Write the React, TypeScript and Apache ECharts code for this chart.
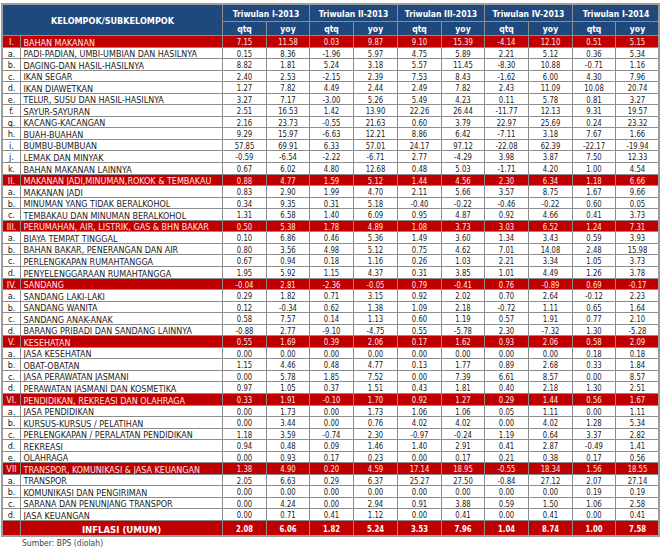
import React, { useEffect, useRef } from "react";
import * as echarts from "echarts";

// ---------- DATA ----------
const headerTitle = "KELOMPOK/SUBKELOMPOK";
const periods = ["Triwulan I-2013", "Triwulan II-2013", "Triwulan III-2013", "Triwulan IV-2013", "Triwulan I-2014"];
const measures = ["qtq", "yoy"];
const source = "Sumber: BPS (diolah)";

const rowCodes = [
  "I.", "a.", "b.", "c.", "d.", "e.", "f.", "g.", "h.", "i.", "j.", "k.",
  "II.", "a.", "b.", "c.",
  "III.", "a.", "b.", "c.", "d.",
  "IV.", "a.", "b.", "c.", "d.",
  "V.", "a.", "b.", "c.", "d.",
  "VI.", "a.", "b.", "c.", "d.", "e.",
  "VII", "a.", "b.", "c.", "d.",
  "",
];
const rowLabels = [
  "BAHAN MAKANAN",
  "PADI-PADIAN, UMBI-UMBIAN DAN HASILNYA",
  "DAGING-DAN HASIL-HASILNYA",
  "IKAN SEGAR",
  "IKAN DIAWETKAN",
  "TELUR, SUSU DAN HASIL-HASILNYA",
  "SAYUR-SAYURAN",
  "KACANG-KACANGAN",
  "BUAH-BUAHAN",
  "BUMBU-BUMBUAN",
  "LEMAK DAN MINYAK",
  "BAHAN MAKANAN LAINNYA",
  "MAKANAN JADI,MINUMAN,ROKOK & TEMBAKAU",
  "MAKANAN JADI",
  "MINUMAN YANG TIDAK BERALKOHOL",
  "TEMBAKAU DAN MINUMAN BERALKOHOL",
  "PERUMAHAN, AIR, LISTRIK, GAS & BHN BAKAR",
  "BIAYA TEMPAT TINGGAL",
  "BAHAN BAKAR, PENERANGAN DAN AIR",
  "PERLENGKAPAN RUMAHTANGGA",
  "PENYELENGGARAAN RUMAHTANGGA",
  "SANDANG",
  "SANDANG LAKI-LAKI",
  "SANDANG WANITA",
  "SANDANG ANAK-ANAK",
  "BARANG PRIBADI DAN SANDANG LAINNYA",
  "KESEHATAN",
  "JASA KESEHATAN",
  "OBAT-OBATAN",
  "JASA PERAWATAN JASMANI",
  "PERAWATAN JASMANI DAN KOSMETIKA",
  "PENDIDIKAN, REKREASI DAN OLAHRAGA",
  "JASA PENDIDIKAN",
  "KURSUS-KURSUS / PELATIHAN",
  "PERLENGKAPAN / PERALATAN PENDIDIKAN",
  "REKREASI",
  "OLAHRAGA",
  "TRANSPOR, KOMUNIKASI & JASA KEUANGAN",
  "TRANSPOR",
  "KOMUNIKASI DAN PENGIRIMAN",
  "SARANA DAN PENUNJANG TRANSPOR",
  "JASA KEUANGAN",
  "INFLASI (UMUM)",
];

const tw1_2013_qtq = [7.15, 0.15, 8.82, 2.40, 1.27, 3.27, 2.51, 2.16, 9.29, 57.85, -0.59, 0.67, 0.88, 0.83, 0.34, 1.31, 0.50, 0.10, 0.80, 0.67, 1.95, -0.04, 0.29, 0.12, 0.58, -0.88, 0.55, 0.00, 1.15, 0.00, 0.97, 0.33, 0.00, 0.00, 1.18, 0.94, 0.00, 1.38, 2.05, 0.00, 0.00, 0.00, 2.08];
const tw1_2013_yoy = [11.58, 8.36, 1.81, 2.53, 7.82, 7.17, 16.53, 23.73, 15.97, 69.91, -6.54, 6.02, 4.77, 2.90, 9.35, 6.58, 5.38, 6.86, 3.56, 0.94, 5.92, 2.81, 1.82, -0.34, 7.57, 2.77, 1.69, 0.00, 4.46, 5.78, 1.05, 1.91, 1.73, 3.44, 3.59, 0.48, 0.93, 4.90, 6.63, 0.00, 4.24, 0.71, 6.06];
const tw2_2013_qtq = [0.03, -1.96, 5.24, -2.15, 4.49, -3.00, 1.42, -0.55, -6.63, 6.33, -2.22, 4.80, 1.59, 1.99, 0.31, 1.40, 1.78, 0.46, 4.98, 0.18, 1.15, -2.36, 0.71, 0.62, 0.14, -9.10, 0.39, 0.00, 0.48, 1.85, 0.37, -0.10, 0.00, 0.00, -0.74, 0.09, 0.17, 0.20, 0.29, 0.00, 0.00, 0.41, 1.82];
const tw2_2013_yoy = [9.87, 5.97, 3.18, 2.39, 2.44, 5.26, 13.90, 21.63, 12.21, 57.01, -6.71, 12.68, 5.12, 4.70, 5.18, 6.09, 4.89, 5.36, 5.12, 1.16, 4.37, -0.05, 3.15, 1.38, 1.13, -4.75, 2.06, 0.00, 4.77, 7.52, 1.51, 1.70, 1.73, 0.76, 2.30, 1.46, 0.23, 4.59, 6.37, 0.00, 2.94, 1.12, 5.24];
const tw3_2013_qtq = [9.10, 4.75, 5.57, 7.53, 2.49, 5.49, 22.26, 0.60, 8.86, 24.17, 2.77, 0.48, 1.44, 2.11, -0.40, 0.95, 1.08, 1.49, 0.75, 0.26, 0.31, 0.79, 0.92, 1.09, 0.60, 0.55, 0.17, 0.00, 0.13, 0.00, 0.43, 0.92, 1.06, 4.02, -0.97, 1.40, 0.00, 17.14, 25.27, 0.00, 0.91, 0.00, 3.53];
const tw3_2013_yoy = [15.39, 5.89, 11.45, 8.43, 7.82, 4.23, 26.44, 3.79, 6.42, 97.12, -4.29, 5.03, 4.56, 5.66, -0.22, 4.87, 3.73, 3.60, 4.62, 1.03, 3.85, -0.41, 2.02, 2.18, 1.19, -5.78, 1.62, 0.00, 1.77, 7.39, 1.81, 1.27, 1.06, 4.02, -0.24, 2.91, 0.17, 18.95, 27.50, 0.00, 3.88, 0.41, 7.96];
const tw4_2013_qtq = [-4.14, 2.21, -8.30, -1.62, 2.43, 0.11, -11.77, 22.97, -7.11, -22.08, 3.98, -1.71, 2.30, 3.57, -0.46, 0.92, 3.03, 1.34, 7.01, 2.21, 1.01, 0.76, 0.70, -0.72, 0.57, 2.30, 0.93, 0.00, 0.89, 6.61, 0.40, 0.29, 0.05, 0.00, 1.19, 0.41, 0.21, -0.55, -0.84, 0.00, 0.59, 0.00, 1.04];
const tw4_2013_yoy = [12.10, 5.12, 10.88, 6.00, 11.09, 5.78, 12.13, 25.69, 3.18, 62.39, 3.87, 4.20, 6.34, 8.75, -0.22, 4.66, 6.52, 3.43, 14.08, 3.34, 4.49, -0.89, 2.64, 1.11, 1.91, -7.32, 2.06, 0.00, 2.68, 8.57, 2.18, 1.44, 1.11, 4.02, 0.64, 2.87, 0.38, 18.34, 27.12, 0.00, 1.50, 0.41, 8.74];
const tw1_2014_qtq = [0.51, 0.36, -0.71, 4.30, 10.08, 0.81, 9.31, 0.24, 7.67, -22.17, 7.50, 1.00, 1.18, 1.67, 0.60, 0.41, 1.24, 0.59, 2.48, 1.05, 1.26, 0.69, -0.12, 0.65, 0.77, 1.30, 0.58, 0.18, 0.33, 0.00, 1.30, 0.56, 0.00, 1.28, 3.37, -0.49, 0.17, 1.56, 2.07, 0.19, 1.06, 0.00, 1.00];
const tw1_2014_yoy = [5.15, 5.34, 1.16, 7.96, 20.74, 3.27, 19.57, 23.32, 1.66, -19.94, 12.33, 4.54, 6.66, 9.66, 0.05, 3.73, 7.31, 3.93, 15.98, 3.73, 3.78, -0.17, 2.23, 1.64, 2.10, -5.28, 2.09, 0.18, 1.84, 8.57, 2.51, 1.67, 1.11, 5.34, 2.82, 1.41, 0.56, 18.55, 27.14, 0.19, 2.58, 0.41, 7.58];

const valueColumns = [
  tw1_2013_qtq, tw1_2013_yoy,
  tw2_2013_qtq, tw2_2013_yoy,
  tw3_2013_qtq, tw3_2013_yoy,
  tw4_2013_qtq, tw4_2013_yoy,
  tw1_2014_qtq, tw1_2014_yoy,
];

// ---------- LAYOUT / STYLE ----------
const W = 663;
const H = 548;
const T_LEFT = 2;
const IDX_RIGHT = 20;
const LABEL_RIGHT = 222;
const T_RIGHT = 659;
const T_TOP = 4;
const HEAD1 = 21;
const HEAD2 = 35;
const BODY_END = 520;
const T_BOTTOM = 536;

const BLUE = "#1F497D";
const RED = "#C00000";
const GROUP_TEXT = "#FFE6E6";
const BODY_TEXT = "#1a1a1a";
const GRID_LINE = "#8c8c8c";
const FONT = "'DejaVu Sans Condensed', 'DejaVu Sans', sans-serif";

const snap = (v: number) => Math.round(v) + 0.5;
const dataColEdge = (i: number) => snap(LABEL_RIGHT + (i * (T_RIGHT - LABEL_RIGHT)) / 10);
const nBody = rowLabels.length - 1;
const rowEdge = (i: number) => (i >= nBody ? snap(BODY_END) : snap(HEAD2 + (i * (BODY_END - HEAD2)) / nBody));

type Cell = {
  text: string;
  fill: string;
  color: string;
  bold: boolean;
  align: "left" | "center";
  size: number;
  sx: number;
};

function buildCells() {
  const items: number[][] = [];
  const cells: Cell[] = [];
  const add = (x0: number, y0: number, x1: number, y1: number, c: Cell) => {
    items.push([x0, y0, x1, y1, cells.length]);
    cells.push(c);
  };
  // header
  add(snap(T_LEFT), snap(T_TOP), snap(LABEL_RIGHT), snap(HEAD2), {
    text: headerTitle, fill: BLUE, color: "#ffffff", bold: true, align: "center", size: 9.5, sx: 0.95,
  });
  periods.forEach((p, k) => {
    add(dataColEdge(2 * k), snap(T_TOP), dataColEdge(2 * k + 2), snap(HEAD1), {
      text: p, fill: BLUE, color: "#ffffff", bold: true, align: "center", size: 9.5, sx: 0.9,
    });
    measures.forEach((m, j) => {
      add(dataColEdge(2 * k + j), snap(HEAD1), dataColEdge(2 * k + j + 1), snap(HEAD2), {
        text: m, fill: BLUE, color: "#ffffff", bold: true, align: "center", size: 9, sx: 0.95,
      });
    });
  });
  // body
  rowLabels.forEach((label, r) => {
    const isTotal = r === rowLabels.length - 1;
    const isGroup = !isTotal && !/^[a-z]\.$/.test(rowCodes[r]);
    const y0 = rowEdge(r);
    const y1 = isTotal ? snap(T_BOTTOM) : rowEdge(r + 1);
    const fill = isTotal || isGroup ? RED : "#ffffff";
    const color = isTotal ? "#ffffff" : isGroup ? GROUP_TEXT : BODY_TEXT;
    add(snap(T_LEFT), y0, snap(IDX_RIGHT), y1, {
      text: rowCodes[r], fill, color, bold: false, align: "center", size: 9, sx: 1,
    });
    add(snap(IDX_RIGHT), y0, snap(LABEL_RIGHT), y1, {
      text: label, fill, color, bold: isTotal, align: isTotal ? "center" : "left", size: 9.5, sx: isTotal ? 1 : 0.94,
    });
    valueColumns.forEach((col, c) => {
      add(dataColEdge(c), y0, dataColEdge(c + 1), y1, {
        text: col[r].toFixed(2), fill, color, bold: isTotal, align: "center", size: 9, sx: 0.85,
      });
    });
  });
  return { items, cells };
}

export default function App() {
  const ref = useRef<HTMLDivElement>(null);
  useEffect(() => {
    if (!ref.current) return;
    const chart = echarts.init(ref.current, null, { renderer: "svg" });
    const { items, cells } = buildCells();
    chart.setOption({
      animation: false,
      backgroundColor: "#ffffff",
      grid: { left: 0, right: 0, top: 0, bottom: 0 },
      xAxis: { type: "value", min: 0, max: W, show: false },
      yAxis: { type: "value", min: 0, max: H, inverse: true, show: false },
      graphic: [
        {
          type: "rect",
          z: 100,
          shape: { x: T_LEFT, y: T_TOP, width: T_RIGHT - T_LEFT, height: T_BOTTOM - T_TOP },
          style: { fill: "none", stroke: "#9c9c9c", lineWidth: 2 },
        },
        {
          type: "text",
          x: 22,
          y: 543,
          style: {
            text: source, fill: "#444444", fontSize: 8.5, fontFamily: FONT,
            verticalAlign: "middle", align: "left",
          },
        },
      ],
      series: [
        {
          type: "custom",
          coordinateSystem: "cartesian2d",
          encode: { x: [0, 2], y: [1, 3] },
          data: items,
          renderItem: (params: any, api: any) => {
            const c = cells[api.value(4)];
            const p0 = api.coord([api.value(0), api.value(1)]);
            const p1 = api.coord([api.value(2), api.value(3)]);
            const tx = c.align === "left" ? p0[0] + 3 : (p0[0] + p1[0]) / 2;
            return {
              type: "group",
              children: [
                {
                  type: "rect",
                  shape: { x: p0[0], y: p0[1], width: p1[0] - p0[0], height: p1[1] - p0[1] },
                  style: { fill: c.fill, stroke: GRID_LINE, lineWidth: 1 },
                },
                {
                  type: "text",
                  x: tx,
                  y: (p0[1] + p1[1]) / 2 + 0.5,
                  scaleX: c.sx,
                  style: {
                    text: c.text,
                    fill: c.color,
                    fontSize: c.size,
                    fontWeight: c.bold ? "bold" : "normal",
                    fontFamily: FONT,
                    align: c.align,
                    verticalAlign: "middle",
                  },
                },
              ],
            };
          },
        },
      ],
    });
    return () => chart.dispose();
  }, []);
  return (
    <div
      ref={ref}
      style={{ position: "absolute", left: 0, top: 0, width: W, height: H }}
    />
  );
}
